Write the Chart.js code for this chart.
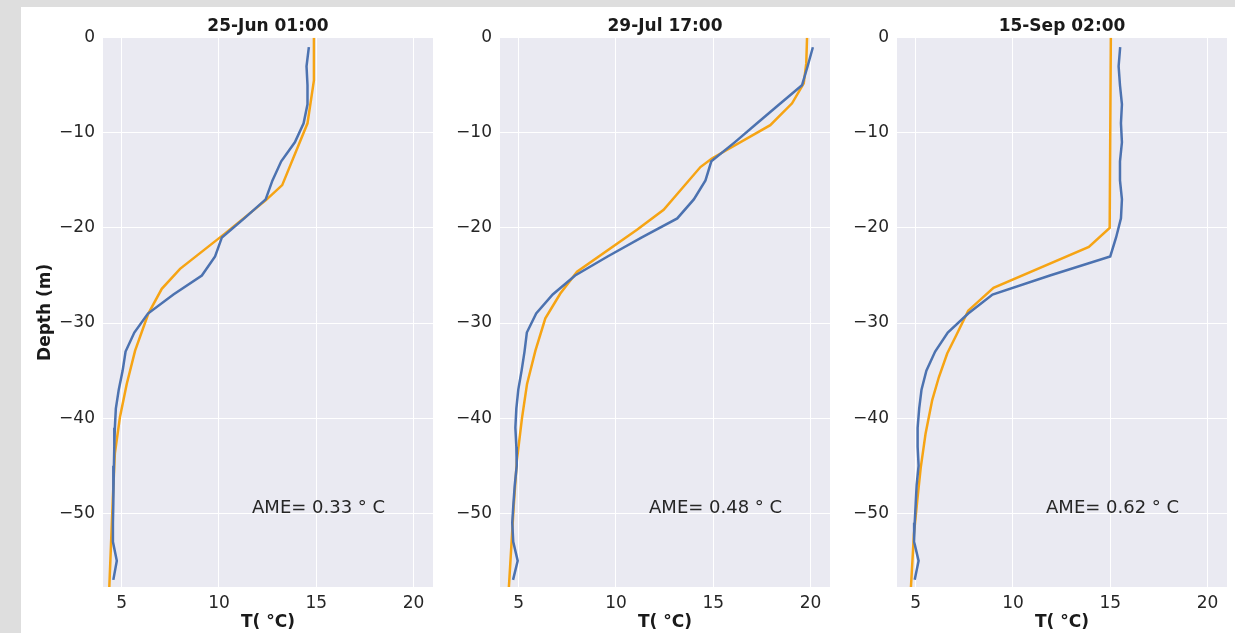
<!DOCTYPE html>
<html>
<head>
<meta charset="utf-8">
<title>Profils de température</title>
<script src="https://cdn.jsdelivr.net/npm/chart.js@4.4.1/dist/chart.umd.min.js"></script>
<style>
    html, body { margin: 0; padding: 0; }
    body { width: 1235px; height: 633px; background: #dedede; position: relative; overflow: hidden; }
    #sheet { position: absolute; left: 21px; top: 7px; right: 0; bottom: 0; background: #ffffff; }
    canvas { position: absolute; top: 7px; }
</style>
</head>
<body>
<div id="sheet"></div>
<canvas id="panelJun" width="414" height="626" style="left:21px;width:414px;height:626px"></canvas>
<canvas id="panelJul" width="392" height="626" style="left:440px;width:392px;height:626px"></canvas>
<canvas id="panelSep" width="398" height="626" style="left:837px;width:398px;height:626px"></canvas>
<script>
// Titres des panneaux et erreurs moyennes
const panelTitles = ['25-Jun 01:00', '29-Jul 17:00', '15-Sep 02:00'];
const ameValues = [0.33, 0.48, 0.62];

// Graduations
const tempTicks = [5, 10, 15, 20];
const depthTicks = [0, -10, -20, -30, -40, -50];

// Observations (bleu) : profondeurs communes
const obsDepth = [-1, -3, -5, -7, -9, -11, -13, -15, -17, -19, -21, -23, -25, -27, -29,
                  -31, -33, -35, -37, -39, -41, -43, -45, -47, -49, -51, -53, -55, -57];
const obsJun = [14.62, 14.5, 14.55, 14.55, 14.35, 13.9, 13.2, 12.75, 12.4, 11.3, 10.15, 9.8, 9.12, 7.66, 6.35,
                5.65, 5.2, 5.05, 4.85, 4.7, 4.65, 4.62, 4.6, 4.58, 4.56, 4.55, 4.55, 4.75, 4.57];
const obsJul = [20.12, 19.85, 19.56, 18.4, 17.25, 16.1, 14.9, 14.6, 14.0, 13.15, 11.33, 9.57, 7.9, 6.75, 5.9,
                5.42, 5.3, 5.15, 4.98, 4.88, 4.83, 4.88, 4.9, 4.8, 4.73, 4.67, 4.72, 4.95, 4.71];
const obsSep = [15.51, 15.43, 15.5, 15.6, 15.55, 15.6, 15.5, 15.5, 15.6, 15.55, 15.3, 15.0, 11.9, 8.95, 7.7,
                6.65, 6.0, 5.55, 5.3, 5.18, 5.1, 5.1, 5.15, 5.05, 5.0, 4.95, 4.92, 5.15, 4.95];

// Modèle (orange) : niveaux propres à chaque date
const modJunDepth = [0, -4.5, -9, -15.5, -17.1, -20.6, -24.3, -26.4, -29, -32.9, -36.4, -39.9, -43.7, -48.7, -58];
const modJun = [14.88, 14.88, 14.55, 13.25, 12.4, 10.3, 8.0, 7.06, 6.37, 5.69, 5.26, 4.91, 4.65, 4.54, 4.36];
const modJulDepth = [0, -2.7, -4.8, -6.9, -9.2, -12.7, -13.6, -18.1, -20.2, -24.6, -26.9, -29.5, -32.9, -36.4, -40, -44.4, -49.4, -58];
const modJul = [19.82, 19.78, 19.65, 19.05, 17.93, 14.93, 14.34, 12.45, 11.08, 8.0, 7.14, 6.37, 5.86, 5.43, 5.17, 4.91, 4.74, 4.49];
const modSepDepth = [0, -20, -22, -26.3, -28.7, -31.1, -33.2, -35.7, -38.1, -41.6, -45.2, -48.7, -52.2, -58];
const modSep = [15.03, 14.97, 13.9, 9.0, 7.7, 7.13, 6.62, 6.19, 5.85, 5.51, 5.26, 5.08, 4.91, 4.75];

const BLUE = '#4c72b0';
const ORANGE = '#f6a414';
const TEXT = '#262626';

Chart.defaults.font.family = "'DejaVu Sans', sans-serif";
Chart.defaults.color = TEXT;

// Fond gris-bleu façon seaborn
const plotBackground = {
    id: 'plotBackground',
    beforeDraw(chart) {
        const { ctx, chartArea: a } = chart;
        ctx.save();
        ctx.fillStyle = '#eaeaf2';
        ctx.fillRect(a.left, a.top, a.width, a.height);
        ctx.restore();
    }
};

// Texte "AME=" placé en coordonnées de données
const ameLabel = {
    id: 'ameLabel',
    afterDatasetsDraw(chart, args, opts) {
        const { ctx, scales } = chart;
        ctx.save();
        ctx.font = '18px "DejaVu Sans"';
        ctx.fillStyle = TEXT;
        ctx.textAlign = 'left';
        ctx.textBaseline = 'alphabetic';
        ctx.fillText(opts.text, scales.x.getPixelForValue(opts.x), scales.y.getPixelForValue(opts.y));
        ctx.restore();
    }
};

function toPoints(temps, depths) {
    return temps.map((t, i) => ({ x: t, y: depths[i] }));
}

function buildPanel(canvasId, idx, obs, mod, modDepth, yAxisWidth, padRight, showDepthTitle) {
    const ctx = document.getElementById(canvasId).getContext('2d');
    return new Chart(ctx, {
        type: 'scatter',
        data: {
            datasets: [{
                data: toPoints(obs, obsDepth),
                showLine: true,
                borderColor: BLUE,
                borderWidth: 2.5,
                pointRadius: 0
            }, {
                data: toPoints(mod, modDepth),
                showLine: true,
                borderColor: ORANGE,
                borderWidth: 2.5,
                pointRadius: 0
            }]
        },
        options: {
            responsive: false,
            animation: false,
            events: [],
            layout: { padding: { left: 0, right: padRight, top: 0, bottom: 0 } },
            plugins: {
                legend: { display: false },
                tooltip: { enabled: false },
                title: {
                    display: true,
                    text: panelTitles[idx],
                    fullSize: false,
                    color: '#1a1a1a',
                    font: { size: 17, weight: 'bold', lineHeight: 1 },
                    padding: { top: 11.5, bottom: 2.2 }
                },
                ameLabel: { text: 'AME= ' + ameValues[idx].toFixed(2) + ' ° C', x: 11.7, y: -50 }
            },
            scales: {
                x: {
                    type: 'linear',
                    min: 4.04,
                    max: 21.0,
                    afterBuildTicks: s => { s.ticks = tempTicks.map(v => ({ value: v })); },
                    afterFit: s => { s.height = 46; },
                    grid: { color: '#ffffff', lineWidth: 1, drawTicks: false },
                    border: { display: false },
                    ticks: { padding: 6, font: { size: 17 }, color: TEXT },
                    title: {
                        display: true,
                        text: 'T( °C)',
                        color: '#1a1a1a',
                        font: { size: 17, weight: 'bold' },
                        padding: { top: 0, bottom: 0 }
                    }
                },
                y: {
                    type: 'linear',
                    min: -57.75,
                    max: 0,
                    afterBuildTicks: s => { s.ticks = depthTicks.map(v => ({ value: v })); },
                    afterFit: s => { s.width = yAxisWidth; },
                    grid: { color: '#ffffff', lineWidth: 1, drawTicks: false },
                    border: { display: false },
                    ticks: {
                        padding: 8,
                        font: { size: 17 },
                        color: TEXT,
                        callback: v => (v < 0 ? '\u2212' + (-v) : String(v))
                    },
                    title: {
                        display: showDepthTitle,
                        text: 'Depth (m)',
                        color: '#1a1a1a',
                        font: { size: 17, weight: 'bold' },
                        padding: { top: 14.8, bottom: 0 }
                    }
                }
            }
        },
        plugins: [plotBackground, ameLabel]
    });
}

document.addEventListener('DOMContentLoaded', function() {
    buildPanel('panelJun', 0, obsJun, modJun, modJunDepth, 82, 2, true);
    buildPanel('panelJul', 1, obsJul, modJul, modJulDepth, 60, 2, false);
    buildPanel('panelSep', 2, obsSep, modSep, modSepDepth, 60, 8, false);
});
</script>
</body>
</html>
